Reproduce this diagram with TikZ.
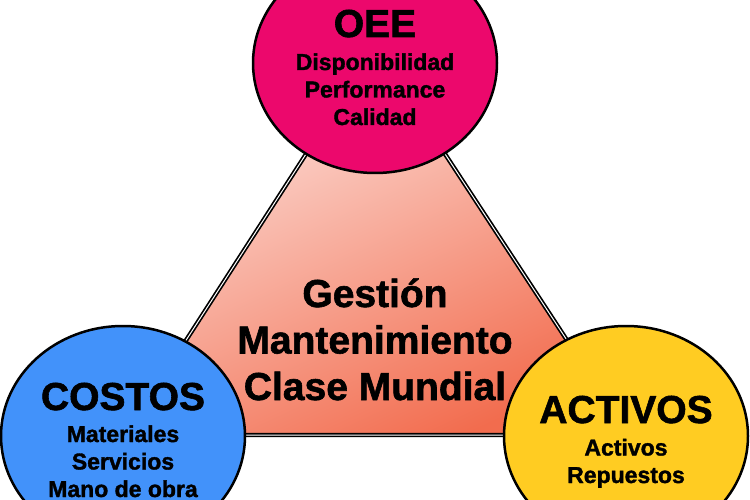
\documentclass[tikz,border=0pt]{standalone}
\usepackage{fontspec}
\setmainfont{Liberation Sans}[BoldFeatures={FakeBold=1.5}]
\usetikzlibrary{shapes.geometric}
\definecolor{oeepink}{RGB}{236,8,108}
\definecolor{costblue}{RGB}{66,146,250}
\definecolor{assetyellow}{RGB}{255,204,34}
\definecolor{triatop}{RGB}{253,230,226}
\definecolor{triabot}{RGB}{242,108,78}
\tikzstyle{pillar} = [ellipse, draw=black, line width=2.5pt, minimum width=244pt, minimum height=220pt, inner sep=0pt]
\tikzstyle{bigtext} = [font=\bfseries\fontsize{39}{46.5}\selectfont, inner sep=0pt, anchor=base, align=center]
\tikzstyle{smalltext} = [font=\bfseries\fontsize{23}{27.5}\selectfont, inner sep=0pt, anchor=base, align=center]

\begin{document}
\begin{tikzpicture}[x=1pt,y=-1pt]
	\useasboundingbox (0,0) rectangle (750,500);
	\clip (0,0) rectangle (750,500);
	% triangle
	\coordinate (apex) at (375,47);
	\coordinate (left) at (125,435);
	\coordinate (right) at (629,435);
	\draw[line width=1.7pt, double=white, double distance=1pt, top color=triatop, bottom color=triabot, shading angle=25] (apex) -- (right) -- (left) -- cycle;
	% base anchor sits on the last line
	\node[bigtext] (gestion) at (375,400) {Gestión\\Mantenimiento\\Clase Mundial};
	% pillars
	\node[pillar, fill=oeepink] (oee) at (375,63) {};
	\node[bigtext] (oeetitle) at (375,37) {OEE};
	\node[smalltext] (oeelist) at (375,125) {Disponibilidad\\Performance\\Calidad};
	\node[pillar, fill=costblue] (costos) at (123,436) {};
	\node[bigtext] (costostitle) at (123,410) {COSTOS};
	\node[smalltext] (costoslist) at (123,497) {Materiales\\Servicios\\Mano de obra};
	\node[pillar, fill=assetyellow] (activos) at (626,436) {};
	\node[bigtext] (activostitle) at (626,423) {ACTIVOS};
	\node[smalltext] (activoslist) at (626,483) {Activos\\Repuestos};
\end{tikzpicture}
\end{document}
